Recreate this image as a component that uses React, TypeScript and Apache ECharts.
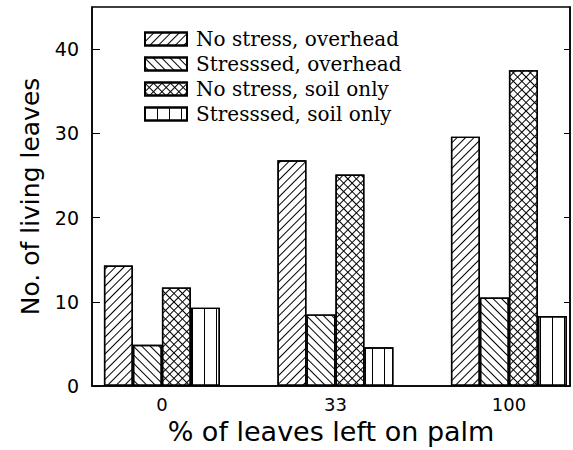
import React, { useEffect, useRef } from 'react';
import * as echarts from 'echarts';

const categories = ['0', '33', '100'];
const seriesNames = [
  'No stress, overhead',
  'Stresssed, overhead',
  'No stress, soil only',
  'Stresssed, soil only',
];
const noStressOverhead = [14.3, 26.8, 29.6];
const stressedOverhead = [4.9, 8.5, 10.5];
const noStressSoil = [11.7, 25.1, 37.5];
const stressedSoil = [9.3, 4.6, 8.3];
const yTicks = [0, 10, 20, 30, 40];
const xPositions = [0, 1, 2];

const decals: any[] = [
  {
    symbol: 'rect', symbolSize: 1, symbolKeepAspect: false, color: '#000',
    dashArrayX: [6, 0], dashArrayY: [1, 5], rotation: -Math.PI / 4,
  },
  {
    symbol: 'rect', symbolSize: 1, symbolKeepAspect: false, color: '#000',
    dashArrayX: [6, 0], dashArrayY: [1, 5], rotation: Math.PI / 4,
  },
  {
    symbol: 'rect', symbolSize: 1, symbolKeepAspect: false, color: '#000',
    dashArrayX: [[6, 0], [1, 5]], dashArrayY: [1, 0, 5, 0], rotation: Math.PI / 4,
  },
  {
    symbol: 'rect', symbolSize: 1, symbolKeepAspect: false, color: '#000',
    dashArrayX: [1, 11], dashArrayY: [6, 0], rotation: 0,
  },
];

const seriesValues = [noStressOverhead, stressedOverhead, noStressSoil, stressedSoil];

export default function App() {
  const ref = useRef<HTMLDivElement>(null);
  useEffect(() => {
    if (!ref.current) return;
    const chart = echarts.init(ref.current, undefined, { renderer: 'svg' });
    const axisFont = 'DejaVu Sans';
    chart.setOption({
      animation: false,
      backgroundColor: '#fff',
      grid: {
        left: 92, right: 3, top: 7, bottom: 64,
        show: true, borderColor: '#000', borderWidth: 1.5,
      },
      legend: {
        orient: 'vertical',
        left: 139, top: 24,
        icon: 'rect',
        itemWidth: 42, itemHeight: 13, itemGap: 5,
        data: seriesNames,
        textStyle: {
          fontFamily: 'DejaVu Serif', fontSize: 20, lineHeight: 20, color: '#000',
          padding: [0, 0, 0, 4],
        },
      },
      xAxis: {
        type: 'value',
        min: -0.403, max: 2.352,
        splitLine: { show: false },
        axisLine: { show: true, onZero: false, lineStyle: { color: '#000', width: 1.5 } },
        axisTick: { show: false },
        axisLabel: {
          customValues: xPositions,
          formatter: (v: number) => categories[Math.round(v)],
          fontFamily: axisFont, fontSize: 18, color: '#000', margin: 9,
        },
        name: '% of leaves left on palm',
        nameLocation: 'middle', nameGap: 30,
        nameTextStyle: { fontFamily: axisFont, fontSize: 27, color: '#000' },
      },
      yAxis: [
        {
          type: 'value', min: 0, max: 45, position: 'left',
          splitLine: { show: false },
          axisLine: { show: true, onZero: false, lineStyle: { color: '#000', width: 1.5 } },
          axisTick: { show: true, inside: true, length: 8, customValues: yTicks, lineStyle: { color: '#000' } },
          axisLabel: {
            customValues: yTicks, fontFamily: axisFont, fontSize: 19, color: '#000', margin: 13,
          },
          name: 'No. of living leaves',
          nameLocation: 'middle', nameGap: 49,
          nameTextStyle: { fontFamily: axisFont, fontSize: 25, color: '#000' },
        },
        {
          type: 'value', min: 0, max: 45, position: 'right',
          splitLine: { show: false },
          axisLine: { show: true, onZero: false, lineStyle: { color: '#000', width: 1.5 } },
          axisTick: { show: true, inside: true, length: 6, customValues: yTicks, lineStyle: { color: '#000' } },
          axisLabel: { show: false },
        },
      ],
      series: seriesNames.map((name, si) => ({
        name,
        type: 'bar',
        yAxisIndex: 0,
        barWidth: 29,
        barGap: '0%',
        data: seriesValues[si].map((v, i) => [xPositions[i], v]),
        itemStyle: { color: '#fff', borderColor: '#000', borderWidth: 1.4, decal: decals[si] },
      })),
    });
    return () => chart.dispose();
  }, []);
  return <div ref={ref} style={{ position: 'absolute', left: 0, top: 0, width: 573, height: 450 }} />;
}
